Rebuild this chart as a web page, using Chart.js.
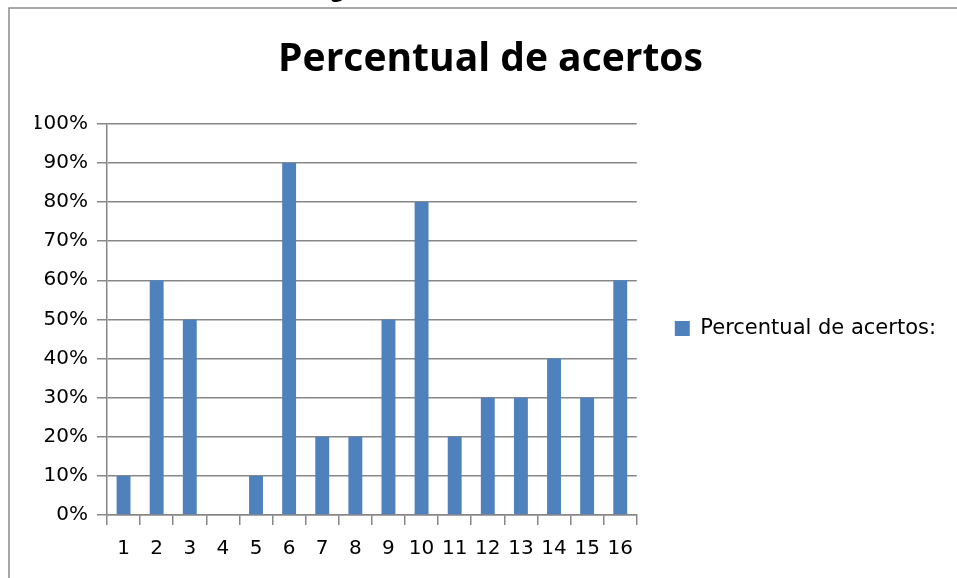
<!DOCTYPE html>
<html>
<head>
<meta charset="utf-8">
<script src="https://cdn.jsdelivr.net/npm/chart.js@4"></script>
<style>
  html, body { margin: 0; padding: 0; background: #ffffff; }
  #wrap { position: relative; width: 957px; height: 578px; overflow: hidden; }
  #chart { display: block; }
</style>
</head>
<body>
<div id="wrap"><canvas id="chart" width="957" height="578"></canvas></div>
<script>
// Question numbers and the share of correct answers for each one (in %)
const questions = ['1', '2', '3', '4', '5', '6', '7', '8', '9', '10', '11', '12', '13', '14', '15', '16'];
const acertos = [10, 60, 50, 0, 10, 90, 20, 20, 50, 80, 20, 30, 30, 40, 30, 60];
const percentTicks = [0, 10, 20, 30, 40, 50, 60, 70, 80, 90, 100];

const seriesName = 'Percentual de acertos:';
const chartTitle = 'Percentual de acertos';

const GRID = '#878787';
const BAR = '#4f81bd';
const TICK_FONT = { family: "'DejaVu Sans', sans-serif", size: 20 };

// Thin frame around the chart object (left and top edges)
const framePlugin = {
  id: 'frame',
  beforeDraw(chart) {
    const ctx = chart.ctx;
    ctx.save();
    ctx.strokeStyle = '#8c8c8c';
    ctx.lineWidth = 1.5;
    ctx.beginPath();
    ctx.moveTo(9, chart.height);
    ctx.lineTo(9, 8);
    ctx.lineTo(chart.width, 8);
    ctx.stroke();
    ctx.restore();
  }
};

// Lower the legend a little so it sits just under the middle of the plot
const legendNudge = {
  id: 'legendNudge',
  afterLayout(chart) {
    const lg = chart.legend;
    if (lg) { lg.top += 9; lg.bottom += 9; }
  }
};

new Chart(document.getElementById('chart'), {
  type: 'bar',
  data: {
    labels: questions,
    datasets: [{
      label: seriesName,
      data: acertos,
      backgroundColor: BAR,
      borderWidth: 0,
      barPercentage: 0.42,
      categoryPercentage: 1.0
    }]
  },
  options: {
    responsive: false,
    animation: false,
    devicePixelRatio: 1,
    layout: { padding: { left: 35, right: 11, top: 0, bottom: 0 } },
    plugins: {
      title: {
        display: true,
        text: chartTitle,
        color: '#000000',
        font: { family: "'Open Sans', sans-serif", size: 39, weight: 'bold' },
        padding: { top: 36, bottom: 41 }
      },
      legend: {
        display: true,
        position: 'right',
        fullSize: false,
        maxWidth: 320,
        labels: {
          boxWidth: 15,
          boxHeight: 15,
          padding: 38,
          color: '#000000',
          font: { family: "'DejaVu Sans', sans-serif", size: 21 }
        }
      },
      tooltip: { enabled: false }
    },
    scales: {
      x: {
        offset: true,
        grid: {
          offset: true,
          drawOnChartArea: false,
          drawTicks: true,
          tickLength: 10,
          color: GRID,
          lineWidth: 1.5
        },
        border: { display: true, color: GRID, width: 1.5 },
        ticks: {
          color: '#000000',
          font: TICK_FONT,
          padding: 12,
          maxRotation: 0,
          autoSkip: false
        },
        afterFit(scale) { scale.height = 63; }
      },
      y: {
        min: 0,
        max: 100,
        afterBuildTicks(scale) { scale.ticks = percentTicks.map(v => ({ value: v })); },
        grid: {
          drawTicks: true,
          tickLength: 10,
          color: GRID,
          lineWidth: 1.5
        },
        border: { display: true, color: GRID, width: 1.5 },
        ticks: {
          color: '#000000',
          font: TICK_FONT,
          padding: 9,
          callback: v => v + '%'
        },
        afterFit(scale) { scale.width = 72; }
      }
    }
  },
  plugins: [framePlugin, legendNudge]
});
</script>
<div style="position:absolute; left:331px; top:-27px; font: bold 22px 'Open Sans', sans-serif; color:#000;">g</div>
</body>
</html>
